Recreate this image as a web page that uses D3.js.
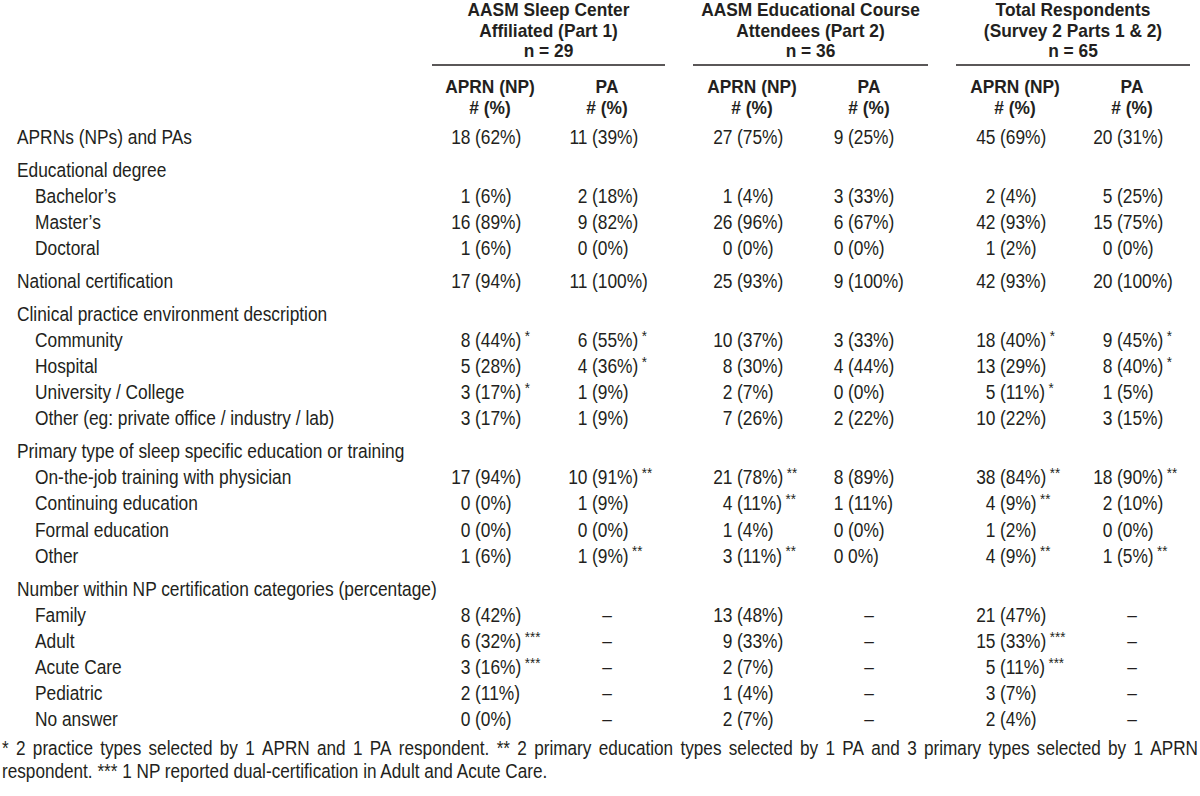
<!DOCTYPE html>
<html><head><meta charset="utf-8">
<script src="https://cdn.jsdelivr.net/npm/d3@7"></script>
<style>html,body{margin:0;padding:0;background:#fff;}svg{display:block;}</style>
</head><body>
<svg id="chart" width="1200" height="796"></svg>
<script>
// ---------- data ----------
const rowLabels = ["APRNs (NPs) and PAs","Educational degree","Bachelor’s","Master’s","Doctoral","National certification","Clinical practice environment description","Community","Hospital","University / College","Other (eg: private office / industry / lab)","Primary type of sleep specific education or training","On-the-job training with physician","Continuing education","Formal education","Other","Number within NP certification categories (percentage)","Family","Adult","Acute Care","Pediatric","No answer"];
const rowIndent = [0,0,1,1,1,0,0,1,1,1,1,0,1,1,1,1,0,1,1,1,1,1];
const p1Aprn = ["18 (62%)","","1 (6%)","16 (89%)","1 (6%)","17 (94%)","","8 (44%)*","5 (28%)","3 (17%)*","3 (17%)","","17 (94%)","0 (0%)","0 (0%)","1 (6%)","","8 (42%)","6 (32%)***","3 (16%)***","2 (11%)","0 (0%)"];
const p1Pa = ["11 (39%)","","2 (18%)","9 (82%)","0 (0%)","11 (100%)","","6 (55%)*","4 (36%)*","1 (9%)","1 (9%)","","10 (91%)**","1 (9%)","0 (0%)","1 (9%)**","","–","–","–","–","–"];
const p2Aprn = ["27 (75%)","","1 (4%)","26 (96%)","0 (0%)","25 (93%)","","10 (37%)","8 (30%)","2 (7%)","7 (26%)","","21 (78%)**","4 (11%)**","1 (4%)","3 (11%)**","","13 (48%)","9 (33%)","2 (7%)","1 (4%)","2 (7%)"];
const p2Pa = ["9 (25%)","","3 (33%)","6 (67%)","0 (0%)","9 (100%)","","3 (33%)","4 (44%)","0 (0%)","2 (22%)","","8 (89%)","1 (11%)","0 (0%)","0 0%)","","–","–","–","–","–"];
const totAprn = ["45 (69%)","","2 (4%)","42 (93%)","1 (2%)","42 (93%)","","18 (40%)*","13 (29%)","5 (11%)*","10 (22%)","","38 (84%)**","4 (9%)**","1 (2%)","4 (9%)**","","21 (47%)","15 (33%)***","5 (11%)***","3 (7%)","2 (4%)"];
const totPa = ["20 (31%)","","5 (25%)","15 (75%)","0 (0%)","20 (100%)","","9 (45%)*","8 (40%)*","1 (5%)","3 (15%)","","18 (90%)**","2 (10%)","0 (0%)","1 (5%)**","","–","–","–","–","–"];
const groupTitles = [["AASM Sleep Center","Affiliated (Part 1)","n = 29"],["AASM Educational Course","Attendees (Part 2)","n = 36"],["Total Respondents","(Survey 2 Parts 1 & 2)","n = 65"]];
const subHeaders = [["APRN (NP)","# (%)"],["PA","# (%)"]];
const footnoteLine1 = "* 2 practice types selected by 1 APRN and 1 PA respondent. ** 2 primary education types selected by 1 PA and 3 primary types selected by 1 APRN";
const footnoteLine2 = "respondent. *** 1 NP reported dual-certification in Adult and Acute Care.";

// ---------- layout ----------
const svg = d3.select("#chart");
const ink = "#231f20";
const FONT = "'Liberation Sans', Arial, Helvetica, sans-serif";
const SX = 0.89, FS = 19.5;
const HFS = 17.8, HSX = 0.975;

const columns = [p1Aprn, p1Pa, p2Aprn, p2Pa, totAprn, totPa];
const colKeys = ["p1a","p1p","p2a","p2p","ta","tp"];
const xAnchor = d3.scaleOrdinal().domain(colKeys).range([475, 592, 737, 848, 1000, 1117]);
const xHeader = d3.scaleOrdinal().domain(colKeys).range([490, 607, 752, 869, 1015, 1132]);
const groupExtent = d3.scaleOrdinal().domain([0,1,2]).range([[432,665],[693,928],[956,1190]]);

// row positions in units: each row 1, section gap extra
let pos = 0; const rowPos = rowLabels.map((l,i)=>{ if(i>0){ pos += 1; if(rowIndent[i]===0) pos += 0.27; } return pos; });
const y = d3.scaleLinear().domain([0, rowPos[rowPos.length-1]]).range([137, 719]);

function txt(g, x, yy, s, opts={}) {
  const sx = opts.sx || SX;
  const t = g.append("text")
    .attr("transform", `translate(${x},${yy}) scale(${sx},1)`)
    .attr("font-family", FONT)
    .attr("font-size", opts.fs||FS)
    .attr("font-weight", opts.bold ? "bold" : "normal")
    .attr("fill", ink)
    .attr("text-anchor", opts.anchor||"start")
    .attr("dy", "0.35em")
    .text(s);
  return t;
}
function width(node){ return node.getComputedTextLength()*SX; }

// ---------- header ----------
const hdr = svg.append("g");
groupTitles.forEach((lines, gi) => {
  const [a,b] = groupExtent(gi);
  const cx = (a+b)/2;
  lines.forEach((l, li) => txt(hdr, cx, 10 + li*20.3, l, {bold:true, anchor:"middle", fs:HFS, sx:HSX}));
  hdr.append("line").attr("x1",a).attr("x2",b).attr("y1",65).attr("y2",65)
     .attr("stroke", ink).attr("stroke-width",1.5);
});
colKeys.forEach((k, ci) => {
  const sh = subHeaders[ci%2];
  sh.forEach((l, li) => txt(hdr, xHeader(k), 87 + li*20.3, l, {bold:true, anchor:"middle", fs:HFS, sx:HSX}));
});

// ---------- rows ----------
const body = svg.append("g");
rowLabels.forEach((l, i) => {
  txt(body, rowIndent[i] ? 35 : 17, y(rowPos[i]), l);
});
columns.forEach((arr, ci) => {
  const k = colKeys[ci];
  arr.forEach((v, i) => {
    if (!v) return;
    const yy = y(rowPos[i]);
    if (v === "–") { txt(body, xHeader(k), yy, v, {anchor:"middle"}); return; }
    const m = v.match(/^(\S+) (.*?)(\**)$/);
    const num = m[1], pct = m[2], stars = m[3];
    txt(body, xAnchor(k) - 4.5, yy, num, {anchor:"end"});
    const p = txt(body, xAnchor(k), yy, pct);
    if (stars) {
      const w = width(p.node());
      txt(body, xAnchor(k) + w + 3.5, yy - 4.5, stars, {fs: 15});
    }
  });
});

// ---------- footnote ----------
const foot = svg.append("g");
const FFS = 19.3;
const words = footnoteLine1.split(" ");
const wNodes = words.map(w => txt(foot, 0, 748, w, {fs:FFS}));
const totalW = d3.sum(wNodes, n => width(n.node()));
const gap = (1198 - 2 - totalW) / (words.length - 1);
let cx = 2;
wNodes.forEach(n => { n.attr("transform", `translate(${cx},748) scale(${SX},1)`); cx += width(n.node()) + gap; });
txt(foot, 2, 771, footnoteLine2, {fs:FFS});
</script>
</body></html>
